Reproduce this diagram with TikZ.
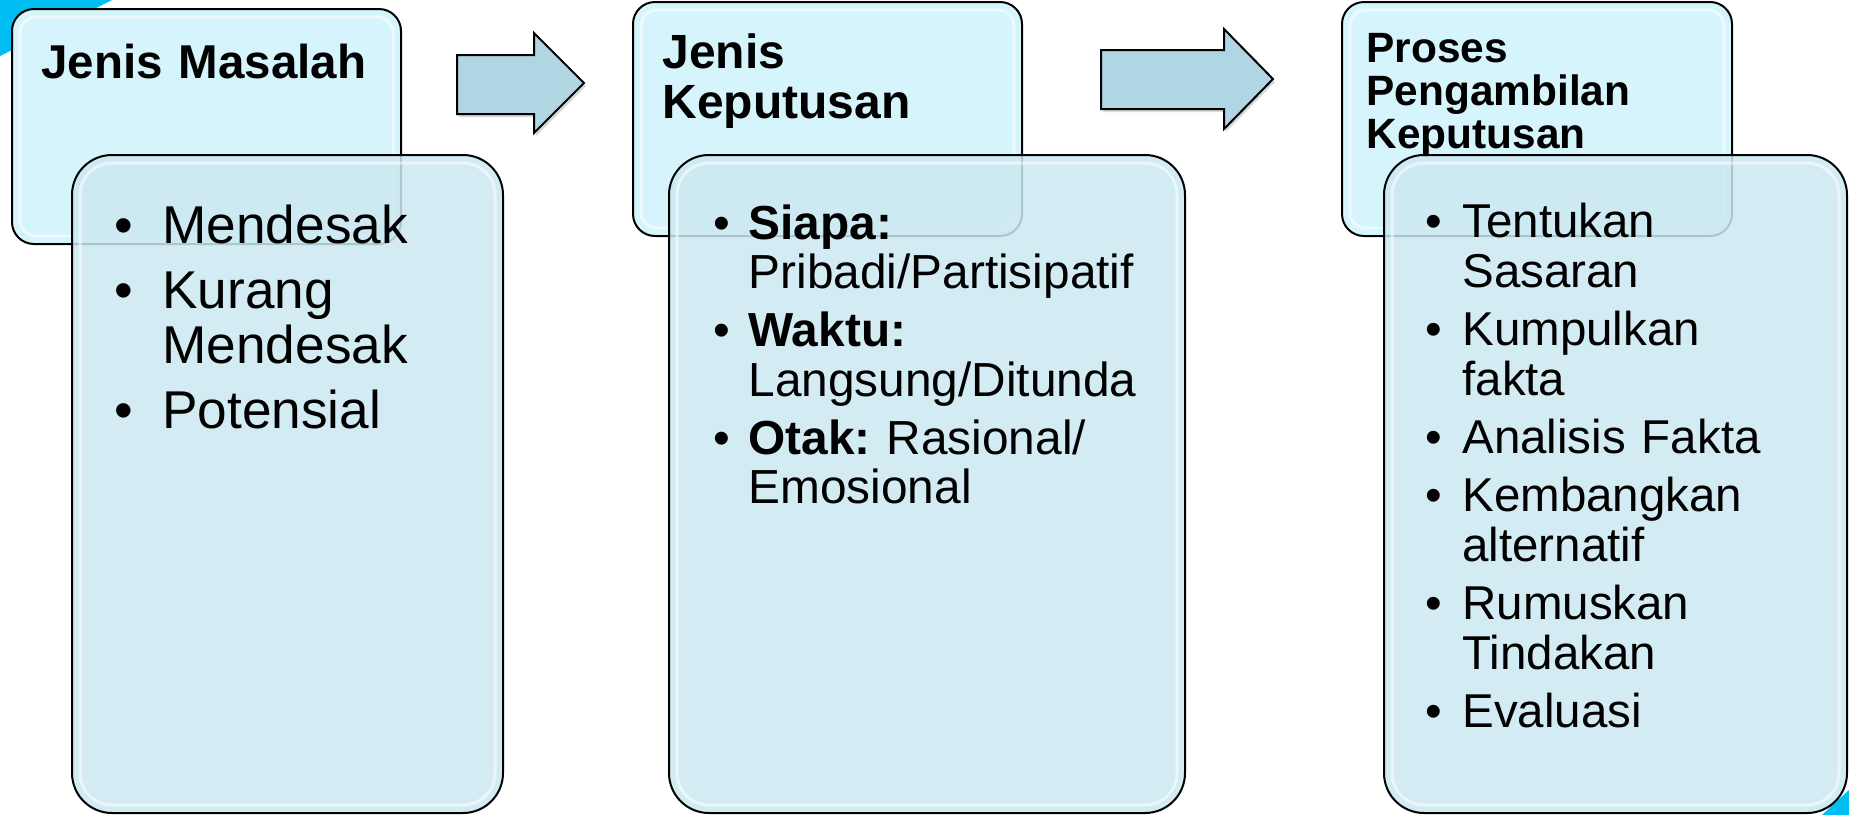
\documentclass[tikz,border=0pt]{standalone}
\usepackage{fontspec}
\setmainfont{Liberation Sans}
\usetikzlibrary{fit,shadows}
\definecolor{boxcol}{RGB}{214,244,252}
\definecolor{bodycol}{RGB}{204,233,241}
\definecolor{arrcol}{RGB}{176,214,228}
\definecolor{swooshcol}{RGB}{0,190,242}
\newlength\hangw
\newcommand\butir[1]{\hangindent=\hangw\hangafter=1\noindent\makebox[\hangw][l]{\textbullet}#1\par}
\frenchspacing
\begin{document}
\begin{tikzpicture}[x=0.5pt, y=-0.5pt,
  head/.style={anchor=base west, inner sep=0, text width=190pt},
  list/.style={anchor=base west, inner sep=0, text width=300pt},
  bevel/.style={path picture={\draw[white, opacity=.55, line width=1.5pt, rounded corners=#1]
    ([shift={(4pt,-4pt)}]path picture bounding box.north west) rectangle
    ([shift={(-4pt,4pt)}]path picture bounding box.south east);}},
  topbox/.style={draw, line width=1pt, fill=boxcol, rounded corners=11pt, inner sep=0, bevel=8pt},
  lowbox/.style={draw, line width=1pt, fill=bodycol, fill opacity=.85, rounded corners=20pt, inner sep=0, bevel=16pt},
  blockarr/.style={draw, line width=1pt, fill=arrcol, line join=miter,
    drop shadow={shadow xshift=1pt, shadow yshift=-1.5pt, opacity=.3}}]
\fill[white] (0,0) rectangle (1849,815);
\useasboundingbox (0,0) rectangle (1849,815);
\fill[swooshcol] (0,0) -- (112,0) -- (0,56) -- cycle;
\fill[swooshcol] (1849,790) -- (1849,815) -- (1822,815) -- cycle;
\node[topbox, fit={(12,9) (401,244)}] (box1) {};
\node[head, font=\bfseries\fontsize{23.75}{25}\selectfont] (judul1) at (41,78) {Jenis Masalah};
\node[topbox, fit={(633,2) (1022,236)}] (box2) {};
\node[head, font=\bfseries\fontsize{24}{25}\selectfont] (judul2) at (662,68) {Jenis\newline Keputusan};
\node[topbox, fit={(1342,2) (1732,236)}] (box3) {};
\node[head, font=\bfseries\fontsize{21.2}{21.5}\selectfont] (judul3) at (1366,62) {Proses\newline Pengambilan\newline Keputusan};
\draw[blockarr] (457,55) -- (534,55) -- (534,33) -- (584,83) -- (534,133) -- (534,114) -- (457,114) -- cycle;
\draw[blockarr] (1101,50) -- (1224,50) -- (1224,29) -- (1273,79) -- (1224,129) -- (1224,109) -- (1101,109) -- cycle;
\node[lowbox, fit={(72,155) (503,813)}] (isi1) {};
\node[list, font=\fontsize{26.6}{27.5}\selectfont] (daftar1) at (114,243) {\setlength\hangw{24pt}%
\butir{Mendesak}\setlength\parskip{5pt}\butir{Kurang\newline Mendesak}\butir{Potensial}};
\node[lowbox, fit={(669,155) (1185,813)}] (isi2) {};
\node[list, font=\fontsize{23.9}{24.75}\selectfont] (daftar2) at (713,239) {\setlength\hangw{17.6pt}%
\butir{\textbf{Siapa:}\newline Pribadi/Partisipatif}\setlength\parskip{4.25pt}\butir{\textbf{Waktu:}\newline Langsung/Ditunda}\butir{\textbf{Otak:} Rasional/\newline Emosional}};
\node[lowbox, fit={(1384,155) (1847,813)}] (isi3) {};
\node[list, font=\fontsize{23.75}{25}\selectfont] (daftar3) at (1425,237) {\setlength\hangw{18.5pt}%
\butir{Tentukan\newline Sasaran}\setlength\parskip{4pt}\butir{Kumpulkan\newline fakta}\butir{Analisis Fakta}\butir{Kembangkan\newline alternatif}\butir{Rumuskan\newline Tindakan}\butir{Evaluasi}};
\end{tikzpicture}
\end{document}
